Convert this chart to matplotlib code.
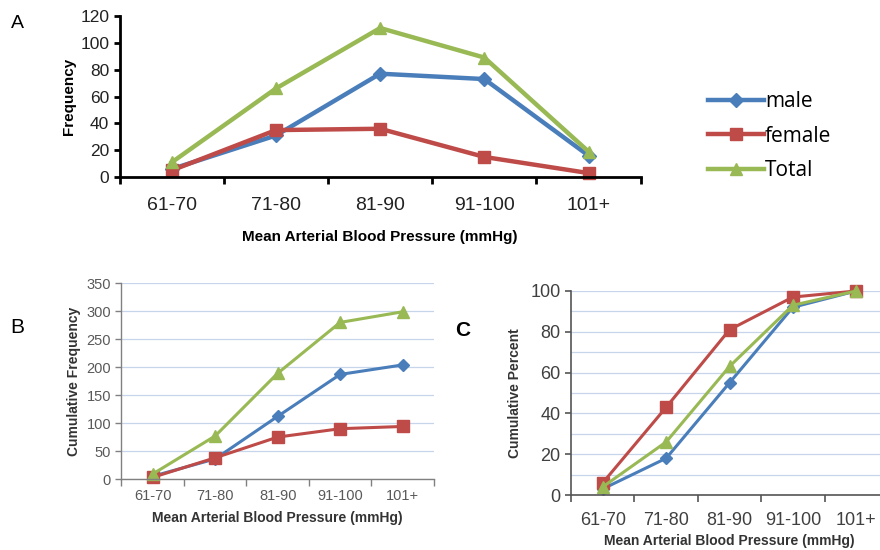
import numpy as np
import matplotlib
matplotlib.use('Agg')
import matplotlib.pyplot as plt

# ---------------------------------------------------------------------------
# data
# ---------------------------------------------------------------------------
categories = ['61-70', '71-80', '81-90', '91-100', '101+']

freq_male = [6, 31, 77, 73, 16]
freq_female = [5, 35, 36, 15, 3]
freq_total = [11, 66, 111, 89, 19]

cum_male = [5, 36, 112, 187, 204]
cum_female = [3, 38, 75, 90, 94]
cum_total = [9, 77, 189, 280, 299]

pct_male = [3, 18, 55, 92, 100]
pct_female = [6, 43, 81, 97, 100]
pct_total = [4, 26, 63, 93, 100]

series_names = ['male', 'female', 'Total']

# ---------------------------------------------------------------------------
# style
# ---------------------------------------------------------------------------
c_blue = '#4A7EBB'
c_red = '#BE4B48'
c_green = '#98B954'
colors = [c_blue, c_red, c_green]
markers = ['D', 's', '^']

narrow = ['Liberation Sans Narrow', 'Liberation Sans', 'DejaVu Sans']
plt.rcParams['font.family'] = narrow

fig = plt.figure(figsize=(8.8, 5.5), dpi=100)
x = np.arange(len(categories))


def category_axis(ax, tickcolor, spinecolor, lw):
    ax.set_xlim(-0.5, len(categories) - 0.5)
    ax.set_xticks(x)
    ax.set_xticklabels(categories)
    ax.set_xticks(np.arange(-0.5, len(categories)), minor=True)
    ax.tick_params(axis='x', which='major', length=0)
    ax.tick_params(axis='x', which='minor', length=5, width=lw, color=spinecolor)
    ax.tick_params(axis='y', length=4, width=lw, color=spinecolor)
    ax.tick_params(axis='both', labelcolor=tickcolor)
    ax.spines['top'].set_visible(False)
    ax.spines['right'].set_visible(False)
    for s in ('left', 'bottom'):
        ax.spines[s].set_color(spinecolor)
        ax.spines[s].set_linewidth(lw)


# ---------------------------------------------------------------------------
# A: frequency
# ---------------------------------------------------------------------------
axA = fig.add_axes([0.136, 0.678, 0.592, 0.293])
for vals, c, m, name in zip([freq_male, freq_female, freq_total], colors, markers, series_names):
    axA.plot(x, vals, color=c, marker=m, lw=3.2, ms=9 if m != 'D' else 7,
             label=name, clip_on=False)
category_axis(axA, '#222222', 'black', 2)
axA.set_ylim(0, 120)
axA.set_yticks(np.arange(0, 121, 20))
axA.tick_params(axis='x', labelsize=14, pad=14)
axA.tick_params(axis='y', labelsize=12.5)
axA.set_xlabel('Mean Arterial Blood Pressure (mmHg)', fontsize=11, fontweight='bold', labelpad=12)
axA.set_ylabel('Frequency', fontsize=11, fontweight='bold', labelpad=3)
axA.legend(loc='center left', bbox_to_anchor=(1.093, 0.255), frameon=False,
           handlelength=2.7, handletextpad=0.05, labelspacing=0.65,
           prop={'family': ['Open Sans', 'DejaVu Sans'], 'size': 15})

# ---------------------------------------------------------------------------
# B: cumulative frequency
# ---------------------------------------------------------------------------
axB = fig.add_axes([0.138, 0.129, 0.355, 0.356])
for vals, c, m in zip([cum_male, cum_female, cum_total], colors, markers):
    axB.plot(x, vals, color=c, marker=m, lw=2.2, ms=8 if m != 'D' else 6, clip_on=False)
category_axis(axB, '#595959', '#808080', 1)
axB.set_ylim(0, 350)
axB.set_yticks(np.arange(0, 351, 50))
axB.grid(axis='y', color='#C6D5EA', lw=0.9)
axB.set_axisbelow(True)
axB.tick_params(axis='both', labelsize=10.5)
axB.tick_params(axis='x', pad=7)
axB.set_xlabel('Mean Arterial Blood Pressure (mmHg)', fontsize=10, fontweight='bold',
               color='#333333', labelpad=6)
axB.set_ylabel('Cumulative Frequency', fontsize=10, fontweight='bold', color='#333333', labelpad=4)

# ---------------------------------------------------------------------------
# C: cumulative percent
# ---------------------------------------------------------------------------
axC = fig.add_axes([0.649, 0.1, 0.36, 0.371])
for vals, c, m in zip([pct_male, pct_female, pct_total], colors, markers):
    axC.plot(x, vals, color=c, marker=m, lw=2.2, ms=8 if m != 'D' else 6, clip_on=False)
category_axis(axC, '#404040', '#555555', 1.2)
axC.set_ylim(0, 100)
axC.set_yticks(np.arange(0, 101, 20))
axC.set_yticks(np.arange(0, 101, 10), minor=True)
axC.tick_params(axis='y', which='minor', length=0)
axC.grid(axis='y', which='both', color='#C6D5EA', lw=0.9)
axC.set_axisbelow(True)
axC.tick_params(axis='both', labelsize=13)
axC.tick_params(axis='x', pad=12)
axC.set_xlabel('Mean Arterial Blood Pressure (mmHg)', fontsize=10, fontweight='bold',
               color='#333333', labelpad=4)
axC.set_ylabel('Cumulative Percent', fontsize=10, fontweight='bold', color='#333333', labelpad=6)

# panel letters
fig.text(0.012, 0.958, 'A', fontsize=14, family=['Liberation Sans', 'DejaVu Sans'], va='center')
fig.text(0.012, 0.405, 'B', fontsize=15, family=['Liberation Sans', 'DejaVu Sans'], va='center')
fig.text(0.517, 0.4, 'C', fontsize=15, fontweight='bold', family=['Liberation Sans', 'DejaVu Sans'],
         va='center')

fig.savefig('out.png', dpi=100)
